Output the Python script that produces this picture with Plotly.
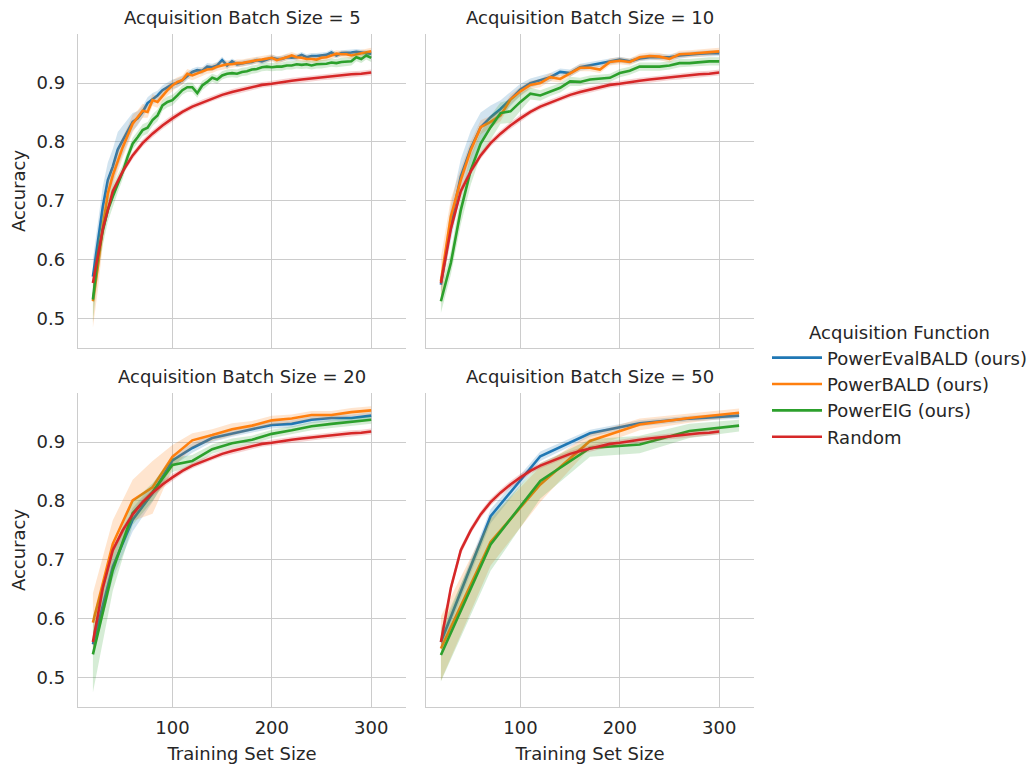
import plotly.graph_objects as go

# ---------------- data ----------------
series_names = ["PowerEvalBALD (ours)", "PowerBALD (ours)", "PowerEIG (ours)", "Random"]
series_colors = ["#1f77b4", "#ff7f0e", "#2ca02c", "#d62728"]
band_colors = ["rgba(31,119,180,0.2)", "rgba(255,127,14,0.2)", "rgba(44,160,44,0.2)", "rgba(214,39,40,0.2)"]
panel_titles = ["Acquisition Batch Size = 5", "Acquisition Batch Size = 10",
                "Acquisition Batch Size = 20", "Acquisition Batch Size = 50"]
x_ticks = [100, 200, 300]
y_ticks = [0.5, 0.6, 0.7, 0.8, 0.9]
y_tick_text = ["0.5", "0.6", "0.7", "0.8", "0.9"]

# Random baseline (shared by every panel)
x_random = [20, 30, 40, 50, 60, 70, 80, 90, 100, 110, 120, 130, 140, 150, 160, 170, 180, 190, 200,
            210, 220, 230, 240, 250, 260, 270, 280, 290, 300]
acc_random = [0.560, 0.652, 0.716, 0.750, 0.777, 0.798, 0.814, 0.828, 0.840, 0.851, 0.860, 0.867, 0.874,
              0.880, 0.885, 0.889, 0.893, 0.897, 0.899, 0.902, 0.904, 0.906, 0.908, 0.910, 0.911, 0.913,
              0.915, 0.916, 0.918]
ci_random = [0.010, 0.008, 0.007, 0.006, 0.006, 0.006, 0.006, 0.006, 0.006, 0.005, 0.005, 0.005, 0.005,
             0.005, 0.005, 0.005, 0.005, 0.005, 0.005, 0.005, 0.005, 0.005, 0.005, 0.005, 0.005, 0.005,
             0.005, 0.005, 0.005]

# Batch size 5
x_b5 = [20, 25, 30, 35, 40, 45, 50, 55, 60, 65, 70, 75, 80, 85, 90, 95, 100, 105, 110, 115, 120, 125,
        130, 135, 140, 145, 150, 155, 160, 165, 170, 175, 180, 185, 190, 195, 200, 205, 210, 215, 220,
        225, 230, 235, 240, 245, 250, 255, 260, 265, 270, 275, 280, 285, 290, 295, 300]
evalbald_b5 = [0.571, 0.633, 0.690, 0.735, 0.758, 0.787, 0.803, 0.820, 0.834, 0.840, 0.851, 0.866, 0.873,
               0.879, 0.888, 0.893, 0.898, 0.900, 0.905, 0.912, 0.919, 0.922, 0.921, 0.928, 0.927, 0.930,
               0.939, 0.930, 0.937, 0.932, 0.934, 0.935, 0.936, 0.939, 0.937, 0.940, 0.943, 0.941, 0.941,
               0.944, 0.943, 0.944, 0.948, 0.944, 0.946, 0.946, 0.947, 0.948, 0.952, 0.947, 0.951, 0.951,
               0.952, 0.953, 0.952, 0.952, 0.950]
bald_b5 = [0.529, 0.588, 0.656, 0.712, 0.743, 0.769, 0.791, 0.811, 0.831, 0.842, 0.853, 0.851, 0.871,
           0.868, 0.879, 0.888, 0.896, 0.902, 0.905, 0.916, 0.913, 0.916, 0.919, 0.923, 0.924, 0.928,
           0.930, 0.932, 0.932, 0.934, 0.934, 0.936, 0.937, 0.939, 0.940, 0.941, 0.943, 0.939, 0.941,
           0.944, 0.947, 0.944, 0.943, 0.941, 0.941, 0.940, 0.943, 0.944, 0.947, 0.950, 0.949, 0.949,
           0.947, 0.949, 0.950, 0.952, 0.954]
eig_b5 = [0.532, 0.605, 0.650, 0.684, 0.707, 0.729, 0.749, 0.775, 0.797, 0.808, 0.820, 0.824, 0.837,
          0.845, 0.862, 0.868, 0.871, 0.879, 0.888, 0.893, 0.893, 0.883, 0.896, 0.902, 0.909, 0.906,
          0.913, 0.916, 0.917, 0.916, 0.919, 0.920, 0.923, 0.924, 0.927, 0.928, 0.927, 0.928, 0.928,
          0.930, 0.930, 0.932, 0.931, 0.932, 0.930, 0.932, 0.932, 0.933, 0.935, 0.934, 0.936, 0.936,
          0.937, 0.944, 0.941, 0.947, 0.943]
ci_evalbald_b5 = [0.030, 0.035, 0.035, 0.030, 0.030, 0.030, 0.025, 0.020, 0.015, 0.012, 0.010, 0.010,
                  0.010, 0.008, 0.008, 0.008, 0.008, 0.008, 0.007, 0.007, 0.006, 0.006, 0.006, 0.006,
                  0.006, 0.006, 0.006, 0.006, 0.005, 0.005, 0.005, 0.005, 0.005, 0.005, 0.005, 0.005,
                  0.005, 0.005, 0.005, 0.005, 0.005, 0.005, 0.005, 0.005, 0.005, 0.005, 0.005, 0.005,
                  0.005, 0.005, 0.005, 0.005, 0.005, 0.005, 0.005, 0.005, 0.005]
ci_bald_b5 = [0.045, 0.040, 0.030, 0.025, 0.020, 0.020, 0.018, 0.015, 0.015, 0.012, 0.012, 0.010,
              0.010, 0.010, 0.010, 0.009, 0.009, 0.008, 0.008, 0.008, 0.008, 0.007, 0.007, 0.007,
              0.007, 0.007, 0.007, 0.007, 0.006, 0.006, 0.006, 0.006, 0.006, 0.006, 0.006, 0.006,
              0.006, 0.006, 0.006, 0.006, 0.006, 0.006, 0.006, 0.006, 0.006, 0.006, 0.006, 0.006,
              0.006, 0.006, 0.006, 0.006, 0.006, 0.006, 0.006, 0.006, 0.006]
ci_eig_b5 = [0.040, 0.030, 0.025, 0.020, 0.020, 0.015, 0.012, 0.010, 0.010, 0.010, 0.010, 0.010,
             0.010, 0.010, 0.009, 0.009, 0.009, 0.008, 0.008, 0.008, 0.008, 0.008, 0.008, 0.007,
             0.007, 0.007, 0.007, 0.007, 0.007, 0.007, 0.007, 0.007, 0.007, 0.007, 0.007, 0.007,
             0.007, 0.007, 0.007, 0.007, 0.007, 0.007, 0.007, 0.007, 0.007, 0.007, 0.007, 0.007,
             0.007, 0.007, 0.007, 0.007, 0.007, 0.007, 0.007, 0.007, 0.007]

# Batch size 10
x_b10 = [20, 30, 40, 50, 60, 70, 80, 90, 100, 110, 120, 130, 140, 150, 160, 170, 180, 190, 200,
         210, 220, 230, 240, 250, 260, 270, 280, 290, 300]
evalbald_b10 = [0.557, 0.662, 0.741, 0.789, 0.825, 0.842, 0.856, 0.873, 0.889, 0.900, 0.905, 0.910,
                0.919, 0.917, 0.927, 0.930, 0.933, 0.936, 0.940, 0.937, 0.942, 0.944, 0.944, 0.944,
                0.947, 0.949, 0.950, 0.951, 0.951]
bald_b10 = [0.563, 0.673, 0.735, 0.786, 0.825, 0.834, 0.845, 0.872, 0.886, 0.897, 0.900, 0.910,
            0.907, 0.917, 0.926, 0.926, 0.923, 0.936, 0.938, 0.936, 0.944, 0.946, 0.945, 0.941,
            0.949, 0.950, 0.951, 0.952, 0.954]
eig_b10 = [0.529, 0.594, 0.684, 0.752, 0.797, 0.825, 0.849, 0.852, 0.868, 0.882, 0.879, 0.886,
           0.892, 0.903, 0.902, 0.906, 0.907, 0.909, 0.917, 0.921, 0.928, 0.928, 0.928, 0.930,
           0.934, 0.934, 0.936, 0.937, 0.937]
ci_evalbald_b10 = [0.012, 0.030, 0.030, 0.030, 0.025, 0.020, 0.015, 0.012, 0.010, 0.008, 0.007, 0.007,
                   0.006, 0.006, 0.006, 0.006, 0.005, 0.005, 0.005, 0.005, 0.005, 0.005, 0.005, 0.005,
                   0.005, 0.005, 0.005, 0.005, 0.005]
ci_bald_b10 = [0.040, 0.030, 0.020, 0.015, 0.012, 0.010, 0.010, 0.008, 0.008, 0.007, 0.007, 0.007,
               0.006, 0.006, 0.006, 0.006, 0.006, 0.006, 0.006, 0.006, 0.006, 0.006, 0.006, 0.006,
               0.006, 0.006, 0.006, 0.006, 0.006]
ci_eig_b10 = [0.020, 0.020, 0.025, 0.025, 0.020, 0.020, 0.018, 0.020, 0.015, 0.010, 0.009, 0.008,
              0.008, 0.008, 0.007, 0.007, 0.007, 0.007, 0.007, 0.007, 0.007, 0.007, 0.007, 0.007,
              0.007, 0.007, 0.007, 0.007, 0.007]

# Batch size 20
x_b20 = [20, 40, 60, 80, 100, 120, 140, 160, 180, 200, 220, 240, 260, 280, 300]
evalbald_b20 = [0.556, 0.688, 0.768, 0.813, 0.869, 0.890, 0.907, 0.915, 0.922, 0.929, 0.931, 0.938,
                0.941, 0.941, 0.945]
bald_b20 = [0.593, 0.727, 0.801, 0.823, 0.875, 0.903, 0.912, 0.922, 0.928, 0.937, 0.940, 0.946,
            0.946, 0.951, 0.954]
eig_b20 = [0.539, 0.682, 0.779, 0.815, 0.861, 0.868, 0.888, 0.898, 0.904, 0.914, 0.920, 0.927,
           0.931, 0.935, 0.938]
ci_evalbald_b20 = [0.020, 0.020, 0.020, 0.015, 0.010, 0.008, 0.007, 0.006, 0.006, 0.006, 0.006, 0.006,
                   0.006, 0.006, 0.006]
ci_bald_b20 = [0.050, 0.040, 0.035, 0.045, 0.020, 0.012, 0.010, 0.010, 0.008, 0.008, 0.007, 0.007,
               0.007, 0.007, 0.007]
ci_eig_b20 = [0.065, 0.035, 0.020, 0.015, 0.012, 0.010, 0.008, 0.008, 0.007, 0.007, 0.007, 0.007,
              0.007, 0.007, 0.007]

# Batch size 50
x_b50 = [20, 70, 120, 170, 220, 270, 320]
evalbald_b50 = [0.560, 0.774, 0.876, 0.915, 0.932, 0.940, 0.945]
bald_b50 = [0.549, 0.730, 0.828, 0.902, 0.930, 0.941, 0.950]
eig_b50 = [0.538, 0.726, 0.834, 0.890, 0.896, 0.919, 0.928]
ci_evalbald_b50 = [0.012, 0.012, 0.008, 0.006, 0.005, 0.005, 0.005]
ci_bald_b50 = [0.055, 0.040, 0.030, 0.012, 0.010, 0.008, 0.007]
ci_eig_b50 = [0.045, 0.045, 0.030, 0.015, 0.015, 0.012, 0.010]

panels = [
    (x_b5, [evalbald_b5, bald_b5, eig_b5], [ci_evalbald_b5, ci_bald_b5, ci_eig_b5]),
    (x_b10, [evalbald_b10, bald_b10, eig_b10], [ci_evalbald_b10, ci_bald_b10, ci_eig_b10]),
    (x_b20, [evalbald_b20, bald_b20, eig_b20], [ci_evalbald_b20, ci_bald_b20, ci_eig_b20]),
    (x_b50, [evalbald_b50, bald_b50, eig_b50], [ci_evalbald_b50, ci_bald_b50, ci_eig_b50]),
]

# ---------------- figure ----------------
W, H = 1034, 764
ML, MR, MT, MB = 78, 280, 34, 57
PW, PH = W - ML - MR, H - MT - MB

def xdom(p0, p1):
    return [(p0 - ML) / PW, (p1 - ML) / PW]

def ydom(top, bottom):
    return [(H - MB - bottom) / PH, (H - MB - top) / PH]

dom = {
    1: (xdom(78, 406), ydom(34, 348)),
    2: (xdom(426, 754), ydom(34, 348)),
    3: (xdom(78, 406), ydom(393, 707)),
    4: (xdom(426, 754), ydom(393, 707)),
}

fig = go.Figure()
FONT = "DejaVu Sans"
TXT = "#262626"

for pi, (xs, ys_list, ci_list) in enumerate(panels, start=1):
    xa = "x" if pi == 1 else f"x{pi}"
    ya = "y" if pi == 1 else f"y{pi}"
    all_x = [xs, xs, xs, x_random]
    all_y = ys_list + [acc_random]
    all_ci = ci_list + [ci_random]
    for si in range(4):
        xv, yv, cv = all_x[si], all_y[si], all_ci[si]
        upper = [a + c for a, c in zip(yv, cv)]
        lower = [a - c for a, c in zip(yv, cv)]
        fig.add_trace(go.Scatter(
            x=list(xv) + list(xv)[::-1], y=upper + lower[::-1],
            fill="toself", fillcolor=band_colors[si], line=dict(width=0),
            mode="lines", hoverinfo="skip", showlegend=False,
            legendgroup=series_names[si], xaxis=xa, yaxis=ya))
        fig.add_trace(go.Scatter(
            x=xv, y=yv, mode="lines", name=series_names[si],
            line=dict(color=series_colors[si], width=2.6),
            legendgroup=series_names[si], showlegend=(pi == 1),
            xaxis=xa, yaxis=ya))

axis_common = dict(
    showgrid=True, gridcolor="#cccccc", gridwidth=1.3,
    showline=True, linecolor="#cccccc", linewidth=1.3,
    zeroline=False, ticks="", automargin=False,
    tickfont=dict(family=FONT, size=18, color=TXT),
)

layout = dict(
    width=W, height=H,
    margin=dict(l=ML, r=MR, t=MT, b=MB),
    paper_bgcolor="white", plot_bgcolor="white",
    font=dict(family=FONT, size=18, color=TXT),
    showlegend=True,
    legend=dict(
        xref="container", yref="container",
        x=767 / W, xanchor="left",
        y=1 - 316 / H, yanchor="top",
        title=dict(text="Acquisition Function", side="top center",
                   font=dict(family=FONT, size=18, color=TXT)),
        font=dict(family=FONT, size=18, color=TXT),
        bgcolor="rgba(0,0,0,0)", tracegroupgap=0, itemwidth=50,
    ),
)

for pi in range(1, 5):
    xd, yd = dom[pi]
    xk = "xaxis" if pi == 1 else f"xaxis{pi}"
    yk = "yaxis" if pi == 1 else f"yaxis{pi}"
    ya_name = "y" if pi == 1 else f"y{pi}"
    xa_name = "x" if pi == 1 else f"x{pi}"
    xcfg = dict(axis_common, domain=xd, range=[5, 335], tickvals=x_ticks,
                anchor=ya_name, showticklabels=(pi >= 3))
    if pi > 1:
        xcfg["matches"] = "x"
    if pi >= 3:
        xcfg["title"] = dict(text="Training Set Size", font=dict(family=FONT, size=18, color=TXT))
        xcfg["ticklabelstandoff"] = 4
    ycfg = dict(axis_common, domain=yd, range=[0.4495, 0.9835], tickvals=y_ticks,
                ticktext=y_tick_text, anchor=xa_name, showticklabels=(pi in (1, 3)))
    if pi > 1:
        ycfg["matches"] = "y"
    if pi in (1, 3):
        ycfg["title"] = dict(text="Accuracy", standoff=6,
                             font=dict(family=FONT, size=18, color=TXT))
        ycfg["ticklabelstandoff"] = 8
    layout[xk] = xcfg
    layout[yk] = ycfg

annotations = []
title_pos = [(242, 17), (590, 17), (242, 376), (590, 376)]
for t, (cx, cy) in zip(panel_titles, title_pos):
    annotations.append(dict(
        text=t, x=(cx - ML) / PW, y=(H - MB - cy) / PH, xref="paper", yref="paper",
        xanchor="center", yanchor="middle", showarrow=False,
        font=dict(family=FONT, size=18, color=TXT)))
layout["annotations"] = annotations

fig.update_layout(**layout)
fig.write_html("out.html", config={"displayModeBar": False},
               post_script="document.body.style.margin='0';")
